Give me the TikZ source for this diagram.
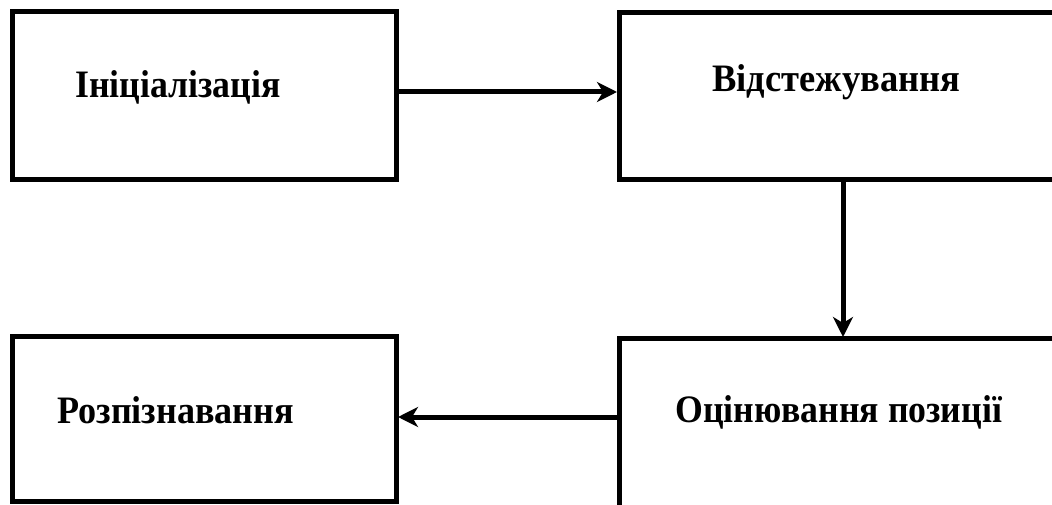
\documentclass[tikz,border=0pt]{standalone}
\usepackage{fontspec}
\setmainfont{Liberation Serif}
\usetikzlibrary{arrows.meta}
\begin{document}
\begin{tikzpicture}[x=1bp,y=-1bp,
  blockbox/.style={draw=black, line width=5bp, fill=white},
  label/.style={font=\bfseries\fontsize{39}{42}\selectfont, inner sep=0pt, anchor=base west},
  flow/.style={line width=5bp, -{Stealth[length=20bp,width=20bp,inset=6bp]}}]
  \useasboundingbox (0,0) rectangle (1052,505);
  \clip (0,0) rectangle (1052,505);
  % process blocks
  \draw[blockbox] (12,12) rectangle (396,180);
  \coordinate (initE) at (396,92);
  \draw[blockbox] (619,13) rectangle (1070,180);
  \coordinate (trackW) at (617,92);
  \coordinate (trackS) at (843,180);
  \draw[blockbox] (12,337) rectangle (396,501);
  \coordinate (recE) at (398,417);
  \draw[blockbox] (619,339) rectangle (1070,520);
  \coordinate (estN) at (843,337);
  \coordinate (estW) at (619,417);
  % captions
  \node[label] (tInit) at (75,98) {\scalebox{0.92}[1]{Ініціалізація}};
  \node[label] (tTrack) at (712,92) {\scalebox{0.94}[1]{Відстежування}};
  \node[label] (tRec) at (57,423) {\scalebox{0.93}[1]{Розпізнавання}};
  \node[label] (tEst) at (675,422) {\scalebox{0.92}[1]{Оцінювання позиції}};
  % connectors
  \draw[flow] (initE) -- (trackW);
  \draw[flow] (trackS) -- (estN);
  \draw[flow] (estW) -- (recE);
\end{tikzpicture}
\end{document}
